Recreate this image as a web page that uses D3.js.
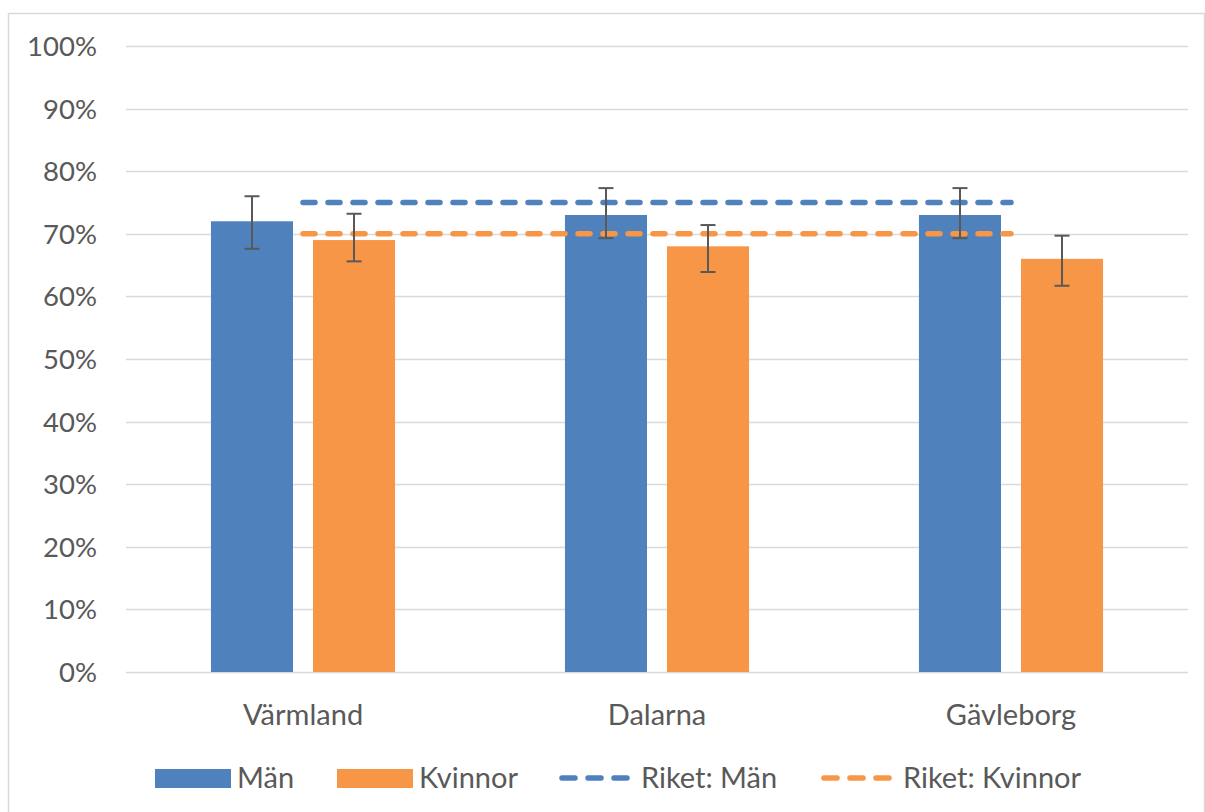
<!DOCTYPE html>
<html>
<head>
<meta charset="utf-8">
<script src="https://cdn.jsdelivr.net/npm/d3@7"></script>
<style>
  body { margin: 0; background: #fff; }
  text { font-family: Lato, "Open Sans", sans-serif; fill: #595959; }
</style>
</head>
<body>
<svg width="1205" height="812"></svg>
<script>
// data
const regions = ['Värmland', 'Dalarna', 'Gävleborg'];
const series = ['Män', 'Kvinnor'];
const manValues = [72, 73, 73];
const kvinnorValues = [69, 68, 66];
const manLow = [67.6, 69.3, 69.3];
const manHigh = [76, 77.3, 77.3];
const kvinnorLow = [65.6, 63.9, 61.7];
const kvinnorHigh = [73.2, 71.4, 69.7];
const riketMan = [75, 75, 75];
const riketKvinnor = [70, 70, 70];
const yTicks = [0, 10, 20, 30, 40, 50, 60, 70, 80, 90, 100];

const colors = { 'Män': '#4f81bd', 'Kvinnor': '#f79646' };

let svg = d3.select('svg');

// outer chart border
svg.append('rect')
    .attr('x', 8.5).attr('y', 13.5)
    .attr('width', 1196).attr('height', 810)
    .attr('fill', 'none').attr('stroke', '#d9d9d9').attr('stroke-width', 1.5);

let margin = { left: 126, right: 1188, top: 46, bottom: 672 };

let x = d3.scaleBand().domain(regions).range([margin.left, margin.right]);
// bars fill the middle of each category, a small gap between them
let xs = d3.scaleBand().domain(series)
    .range([x.bandwidth() * 0.24, x.bandwidth() * 0.76])
    .paddingInner(0.196);
let y = d3.scaleLinear().domain([0, 100]).range([margin.bottom, margin.top]);

// gridlines
svg.append('g').selectAll('line')
    .data(yTicks)
    .enter().append('line')
    .attr('x1', margin.left).attr('x2', margin.right)
    .attr('y1', d => Math.round(y(d)) + 0.5).attr('y2', d => Math.round(y(d)) + 0.5)
    .attr('stroke', '#d9d9d9').attr('stroke-width', 1.5);

// y axis labels
svg.append('g').selectAll('text')
    .data(yTicks)
    .enter().append('text')
    .attr('x', 97).attr('y', d => y(d))
    .attr('dy', '0.36em')
    .attr('text-anchor', 'end')
    .style('font-size', '27.5px')
    .text(d => d + '%');

// bars
let rows = regions.map((r, i) => [
    { region: r, s: 'Män', v: manValues[i], lo: manLow[i], hi: manHigh[i] },
    { region: r, s: 'Kvinnor', v: kvinnorValues[i], lo: kvinnorLow[i], hi: kvinnorHigh[i] }
]).flat();

svg.append('g').selectAll('rect')
    .data(rows)
    .enter().append('rect')
    .attr('x', d => x(d.region) + xs(d.s))
    .attr('width', xs.bandwidth())
    .attr('y', d => y(d.v))
    .attr('height', d => y(0) - y(d.v))
    .attr('fill', d => colors[d.s]);

// riket lines, through category centres
let line = d3.line()
    .x((d, i) => x(regions[i]) + x.bandwidth() / 2)
    .y(d => y(d));

[[riketMan, colors['Män']], [riketKvinnor, colors['Kvinnor']]].forEach(function (p) {
    svg.append('path')
        .datum(p[0])
        .attr('d', line)
        .attr('fill', 'none')
        .attr('stroke', p[1])
        .attr('stroke-width', 5.5)
        .attr('stroke-linecap', 'round')
        .attr('stroke-dasharray', '12 13');
});

// error bars
let eb = svg.append('g').attr('stroke', '#595959').attr('stroke-width', 2);
rows.forEach(function (d) {
    let cx = x(d.region) + xs(d.s) + xs.bandwidth() / 2;
    eb.append('line').attr('x1', cx).attr('x2', cx).attr('y1', y(d.hi)).attr('y2', y(d.lo));
    eb.append('line').attr('x1', cx - 7.5).attr('x2', cx + 7.5).attr('y1', y(d.hi)).attr('y2', y(d.hi));
    eb.append('line').attr('x1', cx - 7.5).attr('x2', cx + 7.5).attr('y1', y(d.lo)).attr('y2', y(d.lo));
});

// category labels
svg.append('g').selectAll('text')
    .data(regions)
    .enter().append('text')
    .attr('x', d => x(d) + x.bandwidth() / 2)
    .attr('y', 725)
    .attr('text-anchor', 'middle')
    .style('font-size', '29px')
    .text(d => d);

// legend
let legend = [
    { label: 'Män', type: 'box', color: colors['Män'], x: 155 },
    { label: 'Kvinnor', type: 'box', color: colors['Kvinnor'], x: 337 },
    { label: 'Riket: Män', type: 'dash', color: colors['Män'], x: 559 },
    { label: 'Riket: Kvinnor', type: 'dash', color: colors['Kvinnor'], x: 821 }
];
let lg = svg.append('g').selectAll('g')
    .data(legend)
    .enter().append('g')
    .attr('transform', d => 'translate(' + d.x + ',778)');

lg.filter(d => d.type === 'box').append('rect')
    .attr('x', 0).attr('y', -9).attr('width', 76).attr('height', 19)
    .attr('fill', d => d.color);
lg.filter(d => d.type === 'dash').append('line')
    .attr('x1', 3).attr('x2', 68).attr('y1', 0).attr('y2', 0)
    .attr('stroke', d => d.color).attr('stroke-width', 5.5)
    .attr('stroke-linecap', 'round').attr('stroke-dasharray', '13 13');
lg.append('text')
    .attr('x', 82)
    .attr('y', 0).attr('dy', '0.36em')
    .style('font-size', '29px')
    .text(d => d.label);
</script>
</body>
</html>
